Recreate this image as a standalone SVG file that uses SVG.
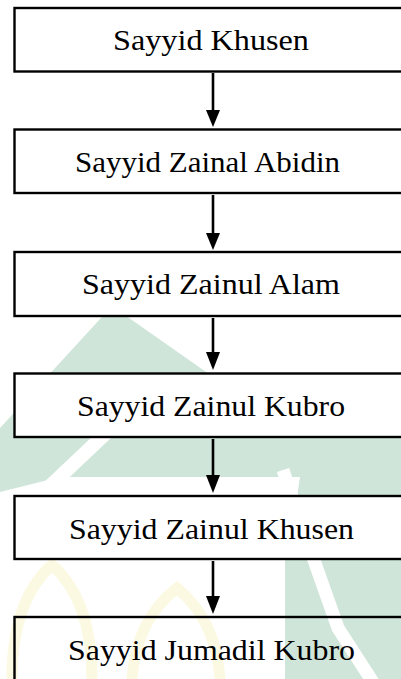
<svg xmlns="http://www.w3.org/2000/svg" width="401" height="679" viewBox="0 0 401 679">
<style>
.box{fill:#fff;stroke:#000;stroke-width:2.4}
.box6{fill:none;stroke:#000;stroke-width:2.4}
.lbl{font-family:"Liberation Serif","Times New Roman",serif;font-size:29px;fill:#000;text-anchor:middle}
.wm{fill:#cfe5d9}
.wmy{fill:none;stroke:#fcf9e2;stroke-width:11}
.cn line{stroke:#000;stroke-width:2.6}
.cn polygon{fill:#000}
</style>
<rect width="401" height="679" fill="#fff"/>
<g id="watermark">
<polygon class="wm" points="0,428 112,306 300,438 355,430 401,430 401,679 285,679 285,560 297,497 300,477 60,477 0,492"/>
<polyline points="30,505 122,418" stroke="#fff" stroke-width="14" fill="none"/>
<polyline points="283,470 298,515 338,628 378,690" stroke="#fff" stroke-width="13" fill="none"/>
<path class="wmy" d="M12,679 Q12,600 52,565 Q92,600 92,679"/>
<path class="wmy" d="M132,679 Q136,620 177,588 Q216,620 220,679"/>
</g>
<g id="connectors" class="cn">
<line x1="213" y1="73" x2="213" y2="112"/><polygon points="206,110 220,110 213,127"/>
<line x1="213" y1="195" x2="213" y2="235"/><polygon points="206,233 220,233 213,250"/>
<line x1="213" y1="318" x2="213" y2="354"/><polygon points="206,352 220,352 213,370"/>
<line x1="213" y1="439" x2="213" y2="477"/><polygon points="206,475 220,475 213,493"/>
<line x1="213" y1="561" x2="213" y2="598"/><polygon points="206,596 220,596 213,614"/>
</g>
<g id="n1"><rect class="box" x="14.5" y="8" width="400" height="63.5"/><text class="lbl" x="211" y="50" textLength="196" lengthAdjust="spacingAndGlyphs">Sayyid Khusen</text></g>
<g id="n2"><rect class="box" x="14.5" y="129.5" width="400" height="63.5"/><text class="lbl" x="207.5" y="172" textLength="265" lengthAdjust="spacingAndGlyphs">Sayyid Zainal Abidin</text></g>
<g id="n3"><rect class="box" x="14.5" y="252" width="400" height="64"/><text class="lbl" x="211" y="294" textLength="258" lengthAdjust="spacingAndGlyphs">Sayyid Zainul Alam</text></g>
<g id="n4"><rect class="box" x="14.5" y="373.5" width="400" height="63.5"/><text class="lbl" x="211" y="415.5" textLength="268" lengthAdjust="spacingAndGlyphs">Sayyid Zainul Kubro</text></g>
<g id="n5"><rect class="box" x="14.5" y="496" width="400" height="63"/><text class="lbl" x="211.5" y="538.5" textLength="285" lengthAdjust="spacingAndGlyphs">Sayyid Zainul Khusen</text></g>
<g id="n6"><rect class="box6" x="14.5" y="617" width="400" height="90"/><text class="lbl" x="211.5" y="660" textLength="287" lengthAdjust="spacingAndGlyphs">Sayyid Jumadil Kubro</text></g>
</svg>
